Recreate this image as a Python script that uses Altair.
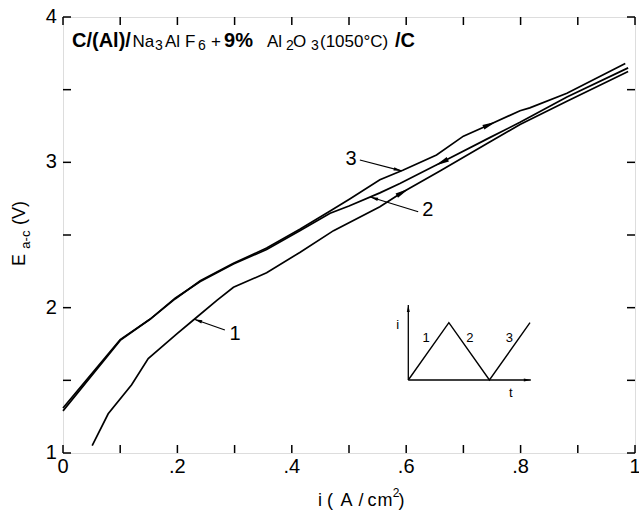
import math
import altair as alt
import pandas as pd

# ---------------------------------------------------------------------------
# Cell voltage E(a-c) against current density i for three successive sweeps
# ---------------------------------------------------------------------------
# sweep 1: current rising
i1 = [0.051, 0.079, 0.12, 0.149, 0.199, 0.228, 0.269, 0.298, 0.356, 0.414,
      0.473, 0.554, 0.592, 0.659, 0.746, 0.799, 0.881, 0.988]
E1 = [1.05, 1.27, 1.47, 1.65, 1.82, 1.915, 2.05, 2.14, 2.24, 2.38,
      2.53, 2.695, 2.79, 2.94, 3.14, 3.26, 3.42, 3.625]

# sweep 2: current falling back to zero
i2 = [0.988, 0.881, 0.799, 0.746, 0.662, 0.589, 0.554, 0.50, 0.467, 0.414,
      0.356, 0.298, 0.24, 0.196, 0.152, 0.10, 0.0]
E2 = [3.65, 3.45, 3.275, 3.17, 3.00, 2.855, 2.79, 2.70, 2.65, 2.53,
      2.40, 2.30, 2.18, 2.065, 1.92, 1.78, 1.31]

# sweep 3: current rising again
i3 = [0.0, 0.10, 0.152, 0.196, 0.24, 0.298, 0.356, 0.414, 0.467, 0.502,
      0.554, 0.594, 0.653, 0.70, 0.746, 0.799, 0.816, 0.881, 0.983]
E3 = [1.29, 1.775, 1.92, 2.06, 2.185, 2.305, 2.41, 2.54, 2.665, 2.75,
      2.88, 2.945, 3.05, 3.18, 3.26, 3.355, 3.375, 3.475, 3.68]

# direction arrows drawn on the sweeps (sweep name, current density)
arrow_sweep = ["1", "2", "3"]
arrow_i = [0.594, 0.662, 0.746]

# sweep numbers with leader lines: label position, leader start, leader end
lead_name = ["1", "2", "3"]
lead_label_i = [0.301, 0.638, 0.5035]
lead_label_E = [1.822, 2.669, 3.023]
lead_from_i = [0.283, 0.621, 0.519]
lead_from_E = [1.846, 2.660, 3.016]
lead_to_i = [0.2295, 0.537, 0.592]

# axis ticks and labels
x_label_vals = [0, 0.2, 0.4, 0.6, 0.8, 1.0]
x_tick_vals = [0, 0.1, 0.2, 0.3, 0.4, 0.5, 0.6, 0.7, 0.8, 0.9, 1.0]
y_label_vals = [1, 2, 3, 4]
y_tick_vals = [1, 1.5, 2, 2.5, 3, 3.5, 4]
x_label_E = 0.904      # label row just under the frame
y_label_i = -0.0105    # label column just left of the frame

# heading "C/(Al)/Na3AlF6+9%Al2O3(1050°C)/C", piece by piece
# kind: B = large bold, R = regular, S = subscript
head_text = ["C/(Al)/", "Na", "3", "Al", "F", "6", "+", "9%",
             "Al", "2", "O", "3", "(1050°C)", "/C"]
head_kind = ["B", "R", "S", "R", "R", "S", "R", "B",
             "R", "S", "R", "S", "R", "B"]
head_i = [0.0157, 0.1215, 0.161, 0.1783, 0.2133, 0.236, 0.2587, 0.2815,
          0.3566, 0.3899, 0.4021, 0.4335, 0.4493, 0.5804]
head_E = 3.796
head_sub_E = 3.770

# x-axis title "i (A/cm²)" laid out glyph by glyph (sup = superscript)
xt_text = ["i", "(", "A", "/", "c", "m", "2", ")"]
xt_sup = [False, False, False, False, False, False, True, False]
xt_i = [0.4493, 0.4668, 0.4956, 0.521, 0.5402, 0.5629, 0.5822, 0.5918]
xt_E = 0.670
xt_sup_E = 0.722

# y-axis title "E_a-c (V)"
yt_text = ["E", "(V)"]
yt_i = [-0.0752, -0.0752]
yt_E = [2.328, 2.651]
yt_sub_text = ["a-c"]
yt_sub_i = [-0.064]
yt_sub_E = [2.468]

# inset: triangular current programme i(t)
inset_t = [0, 1, 2, 3]
inset_cur = [0, 1, 0, 1]
inset_lab = ["1", "2", "3"]
inset_lab_t = [0.44, 1.52, 2.49]
inset_lab_cur = [0.74, 0.74, 0.74]

W, H = 572, 436
X_DOM = [0, 1]
Y_DOM = [1, 4]
FONT = "Liberation Sans, Arial, DejaVu Sans, sans-serif"
TICK_LEN = 8

px_i = W / (X_DOM[1] - X_DOM[0])
px_E = H / (Y_DOM[1] - Y_DOM[0])


def heading(di, dE):
    """Clockwise screen angle (deg) of a direction given in data units."""
    return math.degrees(math.atan2(-dE * px_E, di * px_i)) % 360


sweeps = {"1": (i1, E1), "2": (i2, E2), "3": (i3, E3)}


def on_sweep(name, x):
    ii, ee = sweeps[name]
    for k in range(len(ii) - 1):
        lo, hi = sorted((ii[k], ii[k + 1]))
        if lo <= x <= hi:
            f = (x - ii[k]) / (ii[k + 1] - ii[k])
            e = ee[k] + f * (ee[k + 1] - ee[k])
            return e, heading(ii[k + 1] - ii[k], ee[k + 1] - ee[k])
    raise ValueError(x)


def x_fmt(v):
    if v in (0, 1):
        return str(int(v))
    return f"{v:.1f}"[1:]          # ".2", ".4", ...


curve_rows = []
for name, (ii, ee) in sweeps.items():
    for k, (a, b) in enumerate(zip(ii, ee)):
        curve_rows.append({"sweep": name, "order": k, "i": a, "E": b})
curves_df = pd.DataFrame(curve_rows)

arrow_rows = []
for name, x in zip(arrow_sweep, arrow_i):
    e, ang = on_sweep(name, x)
    arrow_rows.append({"i": x, "E": e, "ang": ang})
arrows_df = pd.DataFrame(arrow_rows)

lead_rows = []
for k, name in enumerate(lead_name):
    e_to, _ = on_sweep(name, lead_to_i[k])
    lead_rows.append({
        "label": name,
        "li": lead_label_i[k], "lE": lead_label_E[k],
        "i": lead_from_i[k], "E": lead_from_E[k],
        "i2": lead_to_i[k], "E2": e_to,
        "ang": heading(lead_to_i[k] - lead_from_i[k], e_to - lead_from_E[k]),
    })
lead_df = pd.DataFrame(lead_rows)

head_df = pd.DataFrame({
    "label": head_text, "kind": head_kind, "i": head_i,
    "E": [head_sub_E if k == "S" else head_E for k in head_kind],
})

xt_df = pd.DataFrame({
    "label": xt_text, "sup": xt_sup, "i": xt_i,
    "E": [xt_sup_E if s else xt_E for s in xt_sup],
})

xlab_df = pd.DataFrame({"label": [x_fmt(v) for v in x_label_vals],
                        "i": x_label_vals, "E": [x_label_E] * len(x_label_vals)})
ylab_df = pd.DataFrame({"label": [str(v) for v in y_label_vals],
                        "i": [y_label_i] * len(y_label_vals), "E": y_label_vals})

x_scale = alt.Scale(domain=X_DOM, nice=False, zero=False)
y_scale = alt.Scale(domain=Y_DOM, nice=False, zero=False)


def X(field):
    return alt.X(field, type="quantitative", scale=x_scale, axis=None)


def Y(field):
    return alt.Y(field, type="quantitative", scale=y_scale, axis=None)


# the three sweeps
lines = alt.Chart(curves_df).mark_line(color="black", strokeWidth=1.7).encode(
    x=X("i"), y=Y("E"), detail="sweep:N", order="order:Q",
)

# inward ticks on all four sides of the frame
xtick_df = pd.DataFrame({"i": x_tick_vals})
ytick_df = pd.DataFrame({"E": y_tick_vals})
tick_style = dict(color="black", strokeWidth=1.5)
ticks_bottom = alt.Chart(xtick_df).mark_rule(**tick_style).encode(
    x=X("i"), y=alt.value(H), y2=alt.value(H - TICK_LEN))
ticks_top = alt.Chart(xtick_df).mark_rule(**tick_style).encode(
    x=X("i"), y=alt.value(0), y2=alt.value(TICK_LEN))
ticks_left = alt.Chart(ytick_df).mark_rule(**tick_style).encode(
    y=Y("E"), x=alt.value(0), x2=alt.value(TICK_LEN))
ticks_right = alt.Chart(ytick_df).mark_rule(**tick_style).encode(
    y=Y("E"), x=alt.value(W), x2=alt.value(W - TICK_LEN))

ARROW = "M1,0L-1,-0.36L-1,0.36Z"
TIP = "M0,0L-2,-0.42L-2,0.42Z"

sweep_arrows = alt.Chart(arrows_df).mark_point(
    shape=ARROW, filled=True, size=190, color="black", opacity=1, strokeWidth=0
).encode(
    x=X("i"), y=Y("E"), angle=alt.Angle("ang:Q", scale=None),
)

leaders = alt.Chart(lead_df).mark_rule(color="black", strokeWidth=1.2).encode(
    x=X("i"), y=Y("E"), x2="i2:Q", y2="E2:Q",
)

leader_tips = alt.Chart(lead_df).mark_point(
    shape=TIP, filled=True, size=64, color="black", opacity=1, strokeWidth=0
).encode(
    x=X("i2"), y=Y("E2"), angle=alt.Angle("ang:Q", scale=None),
)

leader_labels = alt.Chart(lead_df).mark_text(
    font=FONT, fontSize=20, color="black", align="center", baseline="middle"
).encode(
    x=X("li"), y=Y("lE"), text="label:N",
)


def text_layer(df, size, weight="normal", align="left", baseline="alphabetic",
               angle=0):
    return alt.Chart(df).mark_text(
        font=FONT, fontSize=size, fontWeight=weight, align=align,
        baseline=baseline, angle=angle, color="black"
    ).encode(
        x=X("i"), y=Y("E"), text="label:N",
    )


# tick labels
x_labels = text_layer(xlab_df, 20, align="center", baseline="middle")
y_labels = text_layer(ylab_df, 20, align="right", baseline="middle")

head_b = text_layer(head_df[head_df.kind == "B"], 20, weight="bold")
head_r = text_layer(head_df[head_df.kind == "R"], 17)
head_s = text_layer(head_df[head_df.kind == "S"], 14)

# axis titles
x_title = text_layer(xt_df[~xt_df.sup], 18, align="center", baseline="middle")
x_title_sup = text_layer(xt_df[xt_df.sup], 12, align="center", baseline="middle")
y_title_main = text_layer(pd.DataFrame({"label": yt_text, "i": yt_i, "E": yt_E}),
                          18, align="center", baseline="middle", angle=270)
y_title_sub = text_layer(pd.DataFrame({"label": yt_sub_text, "i": yt_sub_i, "E": yt_sub_E}),
                         13, align="center", baseline="middle", angle=270)

main = alt.layer(
    lines, ticks_bottom, ticks_top, ticks_left, ticks_right,
    sweep_arrows, leaders, leader_tips, leader_labels,
    x_labels, y_labels,
    head_b, head_r, head_s, x_title, x_title_sup, y_title_main, y_title_sub,
)

# ---------------------------------------------------------------------------
# inset sketch of the current programme
# ---------------------------------------------------------------------------
t_scale = alt.Scale(domain=[0, 3], range=[345.3, 467], nice=False, zero=False)
c_scale = alt.Scale(domain=[0, 1], range=[363, 305.7], nice=False, zero=False)

inset_df = pd.DataFrame({"t": inset_t, "c": inset_cur, "order": range(len(inset_t))})
inset_axes_df = pd.DataFrame({"t": [0, 0], "c": [0, 0], "t2": [0, 3.02], "c2": [1.31, 0],
                              "ang": [270, 0]})
inset_lab_df = pd.DataFrame({"label": inset_lab + ["i", "t"],
                             "t": inset_lab_t + [-0.26, 2.53],
                             "c": inset_lab_cur + [0.96, -0.22]})


def T(field):
    return alt.X(field, type="quantitative", scale=t_scale, axis=None)


def C(field):
    return alt.Y(field, type="quantitative", scale=c_scale, axis=None)


inset_wave = alt.Chart(inset_df).mark_line(color="black", strokeWidth=1.4).encode(
    x=T("t"), y=C("c"), order="order:Q",
)
inset_axes = alt.Chart(inset_axes_df).mark_rule(color="black", strokeWidth=1.3).encode(
    x=T("t"), y=C("c"), x2="t2:Q", y2="c2:Q",
)
inset_tips = alt.Chart(inset_axes_df).mark_point(
    shape=TIP, filled=True, size=49, color="black", opacity=1, strokeWidth=0
).encode(
    x=T("t2"), y=C("c2"), angle=alt.Angle("ang:Q", scale=None),
)
inset_text = alt.Chart(inset_lab_df).mark_text(
    font=FONT, fontSize=13, color="black", align="center", baseline="middle"
).encode(
    x=T("t"), y=C("c"), text="label:N",
)

inset = alt.layer(inset_wave, inset_axes, inset_tips, inset_text)

chart = alt.layer(main, inset).resolve_scale(
    x="independent", y="independent"
).properties(
    width=W, height=H,
    autosize=alt.AutoSizeParams(type="none"),
    padding={"left": 63, "top": 17, "right": 4, "bottom": 58},
).configure_view(
    stroke="black", strokeWidth=2
).configure(background="white")

chart.save("out.html", embed_options={"renderer": "svg", "actions": False})
